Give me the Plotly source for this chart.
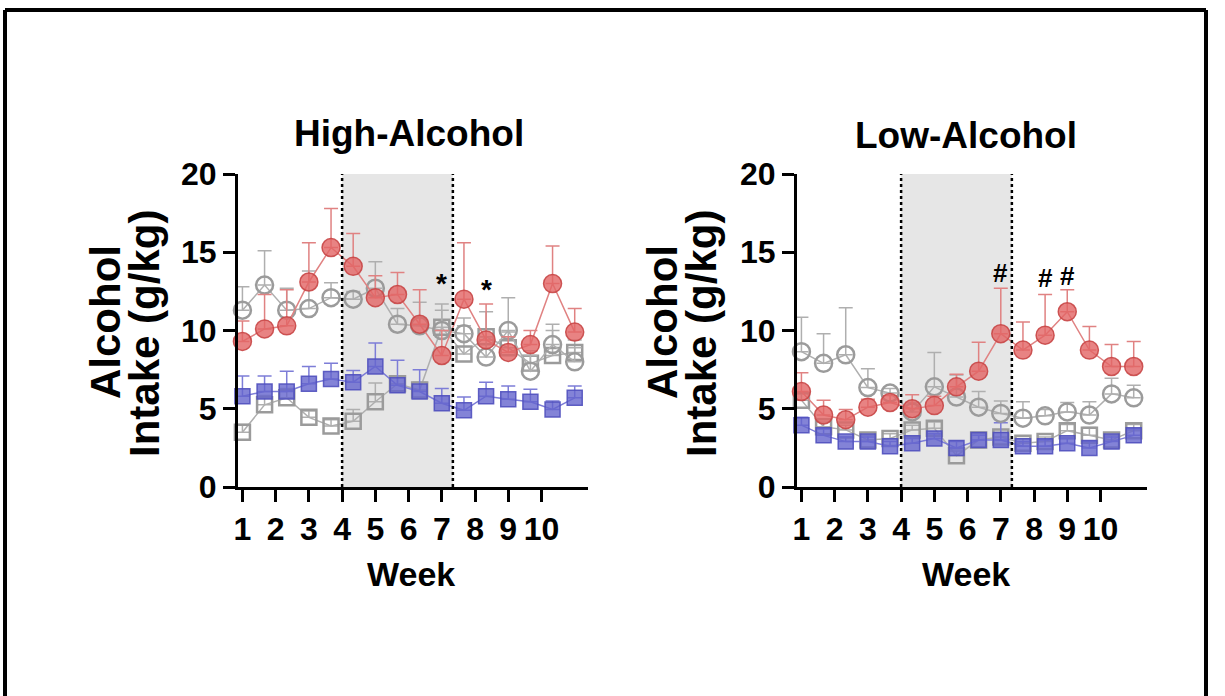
import plotly.graph_objects as go

# ---------------- data ----------------
sessions = list(range(1, 17))
week_labels = [1, 2, 3, 4, 5, 6, 7, 8, 9, 10]
sessions_per_week = 1.5
shade_start, shade_end = 5.5, 10.5

hi_red = [9.3, 10.1, 10.3, 13.1, 15.3, 14.1, 12.1, 12.3, 10.4, 8.4, 12.0, 9.4, 8.6, 9.1, 13.0, 9.9]
hi_red_err = [1.3, 2.2, 2.3, 2.5, 2.5, 2.1, 1.4, 1.4, 2.2, 1.6, 3.6, 2.3, 1.0, 0.9, 2.4, 1.5]
hi_gcirc = [11.3, 12.9, 11.3, 11.4, 12.1, 12.0, 12.7, 10.4, 10.3, 10.0, 9.8, 8.3, 10.0, 7.4, 9.1, 8.0]
hi_gcirc_err = [1.5, 2.2, 1.4, 2.4, 0.95, 0.5, 1.7, 1.0, 1.5, 1.3, 1.0, 1.3, 2.1, 1.0, 1.3, 0.9]
hi_blue = [5.8, 6.1, 6.1, 6.6, 6.9, 6.7, 7.7, 6.5, 6.1, 5.35, 4.9, 5.8, 5.6, 5.45, 4.95, 5.7]
hi_blue_err = [1.3, 1.0, 1.3, 1.1, 1.0, 0.75, 1.5, 1.6, 1.4, 0.95, 0.85, 0.9, 0.85, 0.8, 0.55, 0.75]
hi_gsq = [3.5, 5.25, 5.7, 4.45, 3.9, 4.2, 5.45, 6.6, 6.2, 10.2, 8.5, 9.6, 8.9, 7.9, 8.4, 8.6]
hi_gsq_err = [0.5, 0.6, 0.6, 0.4, 0.4, 0.75, 1.2, 0.5, 0.5, 1.5, 1.8, 1.6, 1.0, 0.8, 1.6, 0.8]

lo_red = [6.1, 4.6, 4.3, 5.1, 5.4, 5.0, 5.2, 6.4, 7.4, 9.8, 8.75, 9.7, 11.2, 8.75, 7.7, 7.7]
lo_red_err = [1.2, 0.95, 0.65, 0.5, 0.45, 0.9, 0.6, 0.8, 1.85, 2.9, 1.8, 2.6, 1.4, 1.5, 1.4, 1.6]
lo_gcirc = [8.65, 7.9, 8.45, 6.35, 6.0, 4.8, 6.4, 5.75, 5.1, 4.7, 4.4, 4.55, 4.8, 4.6, 5.95, 5.7]
lo_gcirc_err = [2.2, 1.9, 3.0, 1.2, 0.3, 0.6, 2.2, 1.4, 1.0, 0.8, 1.05, 0.4, 0.6, 0.85, 1.0, 0.8]
lo_blue = [3.95, 3.3, 2.9, 2.9, 2.6, 2.8, 3.1, 2.5, 3.0, 3.0, 2.6, 2.6, 2.8, 2.5, 2.9, 3.3]
lo_blue_err = [0.5, 0.4, 0.3, 0.3, 0.3, 0.3, 0.3, 0.4, 0.3, 1.1, 0.3, 0.4, 0.3, 0.4, 0.3, 0.4]
lo_gsq = [5.55, 3.85, 3.65, 3.0, 3.1, 3.65, 3.75, 2.0, 3.0, 3.2, 2.8, 2.9, 3.6, 3.3, 3.0, 3.6]
lo_gsq_err = [0.4, 0.3, 0.3, 0.3, 0.3, 0.3, 0.4, 0.3, 0.3, 0.3, 0.3, 0.3, 0.4, 0.5, 0.3, 0.4]

hi_marks = [("*", 10, 13.0), ("*", 12, 12.6)]
lo_marks = [("#", 10, 13.7), ("#", 12, 13.35), ("#", 13, 13.5)]

# ---------------- style ----------------
W, H = 1225, 696
FONT = "Liberation Sans, Arial, sans-serif"
RED_F, RED_E, RED_L = "rgba(226,100,100,0.8)", "rgba(200,70,70,0.9)", "rgb(224,130,130)"
BLU_F, BLU_E, BLU_L = "rgba(100,100,205,0.8)", "rgba(80,80,190,0.9)", "rgb(125,125,215)"
GRY = "rgb(155,155,155)"
GRY_L = "rgb(175,175,175)"

fig = go.Figure()


def add_series(xa, ya, y, err, symbol, fill, edge, line, size):
    fig.add_trace(go.Scatter(
        x=sessions, y=y, xaxis=xa, yaxis=ya, mode="lines+markers",
        line=dict(color=line, width=1.5),
        marker=dict(symbol=symbol, size=size, color=fill,
                    line=dict(color=edge, width=2.5 if "open" in symbol else 1.5)),
        error_y=dict(type="data", array=err, arrayminus=[0] * len(err), symmetric=False,
                     color=line, thickness=1.5, width=7),
        showlegend=False, cliponaxis=False))


for xa, ya, gsq, gsqe, blu, blue, gc, gce, rd, rde in [
    ("x", "y", hi_gsq, hi_gsq_err, hi_blue, hi_blue_err, hi_gcirc, hi_gcirc_err, hi_red, hi_red_err),
    ("x2", "y2", lo_gsq, lo_gsq_err, lo_blue, lo_blue_err, lo_gcirc, lo_gcirc_err, lo_red, lo_red_err)]:
    add_series(xa, ya, gsq, gsqe, "square-open", GRY, GRY, GRY_L, 15)
    add_series(xa, ya, blu, blue, "square", BLU_F, BLU_E, BLU_L, 15)
    add_series(xa, ya, gc, gce, "circle-open", GRY, GRY, GRY_L, 17)
    add_series(xa, ya, rd, rde, "circle", RED_F, RED_E, RED_L, 18)

shapes = []
for xr, yr in [("x", "y"), ("x2", "y2")]:
    shapes.append(dict(type="rect", xref=xr, yref=yr, x0=shade_start, x1=shade_end, y0=0, y1=20,
                       fillcolor="#e6e6e6", line=dict(width=0), layer="below"))
    for xv in (shade_start, shade_end):
        shapes.append(dict(type="line", xref=xr, yref=yr, x0=xv, x1=xv, y0=0, y1=20,
                           line=dict(color="black", width=2.5, dash="dot"), layer="above"))
# outer frame (left, top, right edges)
for x0, y0, x1, y1 in [(5, 10, 5, H + 10), (5, 10, 1206, 10), (1206, 10, 1206, H + 10)]:
    shapes.append(dict(type="line", xref="paper", yref="paper",
                       x0=x0 / W, x1=x1 / W, y0=1 - y0 / H, y1=1 - y1 / H,
                       line=dict(color="black", width=4)))

tickvals = [1 + (w - 1) * sessions_per_week for w in week_labels]
xr = [0.8, 16.6]
common_x = dict(range=xr, tickvals=tickvals, ticktext=[str(w) for w in week_labels],
                showline=True, linecolor="black", linewidth=3, ticks="outside",
                ticklen=12, tickwidth=3, tickcolor="black", showgrid=False, zeroline=False,
                tickfont=dict(family=FONT, size=32, color="black", weight="bold"),
                fixedrange=True)
common_y = dict(range=[0, 20], tickvals=[0, 5, 10, 15, 20],
                showline=True, linecolor="black", linewidth=3, ticks="outside",
                ticklen=12, tickwidth=3, tickcolor="black", showgrid=False, zeroline=False,
                tickfont=dict(family=FONT, size=32, color="black", weight="bold"),
                domain=[1 - 487 / H, 1 - 174 / H], fixedrange=True)

annotations = []


def txt(text, x, y, size, xref="paper", yref="paper", angle=0):
    annotations.append(dict(text=text, x=x, y=y, xref=xref, yref=yref, showarrow=False,
                            textangle=angle, xanchor="center", yanchor="middle",
                            font=dict(family=FONT, size=size, color="black", weight="bold")))


# titles
txt("High-Alcohol", 409 / W, 1 - 134 / H, 37)
txt("Low-Alcohol", 966 / W, 1 - 135 / H, 37)
# y titles
txt("Alcohol", 105 / W, 1 - 322 / H, 42, angle=-90)
txt("Intake (g/kg)", 145 / W, 1 - 334 / H, 42, angle=-90)
txt("Alcohol", 662 / W, 1 - 322 / H, 42, angle=-90)
txt("Intake (g/kg)", 702 / W, 1 - 334 / H, 42, angle=-90)
# x titles
txt("Week", 411 / W, 1 - 574 / H, 34)
txt("Week", 966 / W, 1 - 574 / H, 34)
# significance markers
for s, xv, yv in hi_marks:
    txt(s, xv, yv, 28, "x", "y")
for s, xv, yv in lo_marks:
    txt(s, xv, yv, 26, "x2", "y2")

fig.update_layout(
    width=W, height=H, margin=dict(l=0, r=0, t=0, b=0, pad=0, autoexpand=False),
    paper_bgcolor="white", plot_bgcolor="white",
    xaxis=dict(common_x, domain=[238 / W, 588 / W], anchor="y"),
    yaxis=dict(common_y, anchor="x"),
    xaxis2=dict(common_x, domain=[797 / W, 1147 / W], anchor="y2"),
    yaxis2=dict(common_y, anchor="x2"),
    shapes=shapes, annotations=annotations,
)

fig.write_html("out.html", config={"displayModeBar": False},
               post_script="document.body.style.margin='0px';document.body.style.overflow='hidden';")
